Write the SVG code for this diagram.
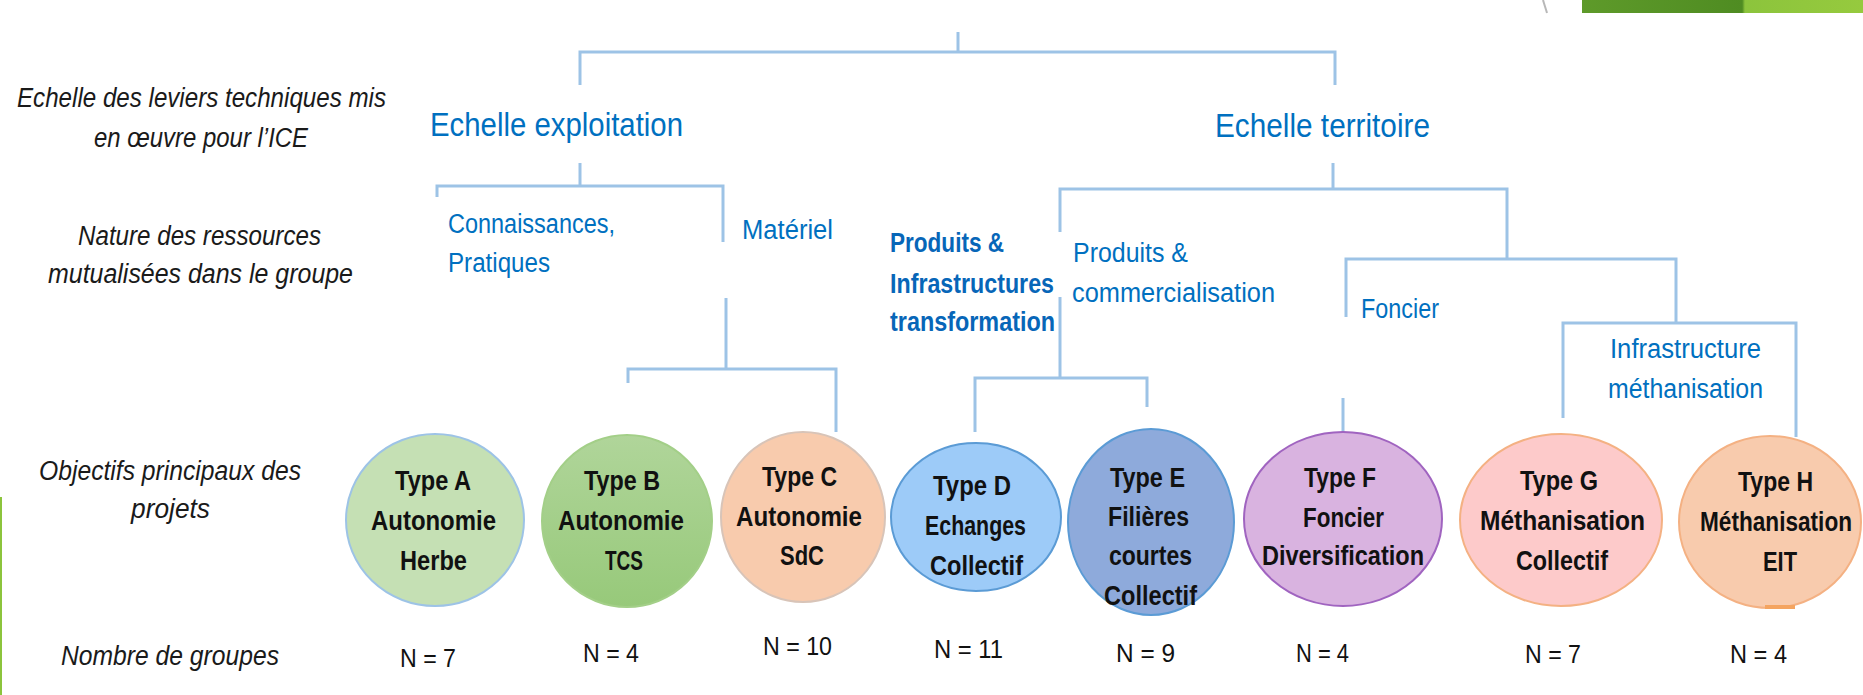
<svg xmlns="http://www.w3.org/2000/svg" width="1863" height="695" viewBox="0 0 1863 695">
<style>
.bg{fill:#ffffff}
.conn path{fill:none;stroke:#9dc3e6;stroke-width:3;stroke-linejoin:miter}
.lbl{font-family:"Liberation Sans",Arial,sans-serif;font-style:italic;font-size:27px;fill:#1a1a1a}
.cat{font-family:"Liberation Sans",Arial,sans-serif;font-size:27px;fill:#0070c0}
.catb{font-family:"Liberation Sans",Arial,sans-serif;font-size:27px;fill:#0766b8;font-weight:bold}
.scale{font-family:"Liberation Sans",Arial,sans-serif;font-size:33px;fill:#0070c0}
.ct{font-family:"Liberation Sans",Arial,sans-serif;font-size:28px;font-weight:bold;fill:#111111}
.n{font-family:"Liberation Sans",Arial,sans-serif;font-size:26px;fill:#111111}
</style>
<defs>
<linearGradient id="gbar" x1="0" y1="0" x2="1" y2="0">
<stop offset="0" stop-color="#5e9a2a"/>
<stop offset="0.57" stop-color="#4f8c22"/>
<stop offset="0.58" stop-color="#8cc43c"/>
<stop offset="1" stop-color="#96ca3e"/>
</linearGradient>
<linearGradient id="gB" x1="0" y1="0" x2="0" y2="1">
<stop offset="0" stop-color="#b0d59a"/>
<stop offset="1" stop-color="#97c97a"/>
</linearGradient>
</defs>
<rect class="bg" x="0" y="0" width="1863" height="695"/>

<g id="decor">
<rect x="1582" y="0" width="281" height="13" fill="url(#gbar)"/>
<path d="M1543,0 L1547,13" stroke="#b8b8b8" stroke-width="2" fill="none"/>
<rect x="0" y="497" width="2" height="198" fill="#8cc43c"/>
</g>

<g id="row-labels">
<text class="lbl" x="17" y="107" textLength="369" lengthAdjust="spacingAndGlyphs">Echelle des leviers techniques mis</text>
<text class="lbl" x="94" y="147" textLength="214" lengthAdjust="spacingAndGlyphs">en œuvre pour l’ICE</text>
<text class="lbl" x="78" y="245" textLength="243" lengthAdjust="spacingAndGlyphs">Nature des ressources</text>
<text class="lbl" x="48" y="283" textLength="305" lengthAdjust="spacingAndGlyphs">mutualisées dans le groupe</text>
<text class="lbl" x="39" y="480" textLength="262" lengthAdjust="spacingAndGlyphs">Objectifs principaux des</text>
<text class="lbl" x="131" y="518" textLength="79" lengthAdjust="spacingAndGlyphs">projets</text>
<text class="lbl" x="61" y="665" textLength="218" lengthAdjust="spacingAndGlyphs">Nombre de groupes</text>
</g>

<g id="connectors" class="conn">
<path d="M580,85 V52 H1335 V85"/>
<path d="M958,52 V32"/>
<path d="M580,163 V186"/>
<path d="M437,197 V186 H723 V242"/>
<path d="M726,298 V369"/>
<path d="M628,383 V369 H836 V432"/>
<path d="M1333,163 V189"/>
<path d="M1060,232 V189 H1507 V259"/>
<path d="M1060,297 V378"/>
<path d="M975,432 V378 H1147 V407"/>
<path d="M1346,317 V259 H1676 V323"/>
<path d="M1343,398 V432"/>
<path d="M1563,418 V323 H1796 V437"/>
</g>

<g id="echelle-exploitation">
<text class="scale" x="430" y="136" textLength="253" lengthAdjust="spacingAndGlyphs">Echelle exploitation</text>
</g>
<g id="echelle-territoire">
<text class="scale" x="1215" y="137" textLength="215" lengthAdjust="spacingAndGlyphs">Echelle territoire</text>
</g>
<g id="connaissances">
<text class="cat" x="448" y="233" textLength="167" lengthAdjust="spacingAndGlyphs">Connaissances,</text>
<text class="cat" x="448" y="272" textLength="102" lengthAdjust="spacingAndGlyphs">Pratiques</text>
</g>
<g id="materiel">
<text class="cat" x="742" y="239" textLength="91" lengthAdjust="spacingAndGlyphs">Matériel</text>
</g>
<g id="produits-infra">
<text class="catb" x="890" y="252" textLength="114" lengthAdjust="spacingAndGlyphs">Produits &amp;</text>
<text class="catb" x="890" y="293" textLength="164" lengthAdjust="spacingAndGlyphs">Infrastructures</text>
<text class="catb" x="890" y="331" textLength="165" lengthAdjust="spacingAndGlyphs">transformation</text>
</g>
<g id="produits-comm">
<text class="cat" x="1073" y="262" textLength="115" lengthAdjust="spacingAndGlyphs">Produits &amp;</text>
<text class="cat" x="1072" y="302" textLength="203" lengthAdjust="spacingAndGlyphs">commercialisation</text>
</g>
<g id="foncier">
<text class="cat" x="1361" y="318" textLength="78" lengthAdjust="spacingAndGlyphs">Foncier</text>
</g>
<g id="infra-metha">
<text class="cat" x="1610" y="358" textLength="151" lengthAdjust="spacingAndGlyphs">Infrastructure</text>
<text class="cat" x="1608" y="398" textLength="155" lengthAdjust="spacingAndGlyphs">méthanisation</text>
</g>

<g id="typeA">
<ellipse cx="435" cy="520" rx="89" ry="86" fill="#c5e0b4" stroke="#9dc3e6" stroke-width="2"/>
<text class="ct" x="395" y="490" textLength="76" lengthAdjust="spacingAndGlyphs">Type A</text>
<text class="ct" x="371" y="530" textLength="125" lengthAdjust="spacingAndGlyphs">Autonomie</text>
<text class="ct" x="400" y="570" textLength="67" lengthAdjust="spacingAndGlyphs">Herbe</text>
<text class="n" x="400" y="667" textLength="56" lengthAdjust="spacingAndGlyphs">N = 7</text>
</g>
<g id="typeB">
<ellipse cx="627" cy="521" rx="85" ry="86" fill="url(#gB)" stroke="#a3cf88" stroke-width="2"/>
<text class="ct" x="584" y="490" textLength="76" lengthAdjust="spacingAndGlyphs">Type B</text>
<text class="ct" x="558" y="530" textLength="126" lengthAdjust="spacingAndGlyphs">Autonomie</text>
<text class="ct" x="605" y="570" textLength="38" lengthAdjust="spacingAndGlyphs">TCS</text>
<text class="n" x="583" y="662" textLength="56" lengthAdjust="spacingAndGlyphs">N = 4</text>
</g>
<g id="typeC">
<ellipse cx="803" cy="517" rx="82" ry="85" fill="#f8cbad" stroke="#d8c4b8" stroke-width="2"/>
<text class="ct" x="762" y="486" textLength="75" lengthAdjust="spacingAndGlyphs">Type C</text>
<text class="ct" x="736" y="526" textLength="126" lengthAdjust="spacingAndGlyphs">Autonomie</text>
<text class="ct" x="780" y="565" textLength="44" lengthAdjust="spacingAndGlyphs">SdC</text>
<text class="n" x="763" y="655" textLength="69" lengthAdjust="spacingAndGlyphs">N = 10</text>
</g>
<g id="typeD">
<ellipse cx="976" cy="517" rx="85" ry="74" fill="#9dcbf8" stroke="#5b9bd5" stroke-width="2"/>
<text class="ct" x="933" y="495" textLength="78" lengthAdjust="spacingAndGlyphs">Type D</text>
<text class="ct" x="925" y="535" textLength="101" lengthAdjust="spacingAndGlyphs">Echanges</text>
<text class="ct" x="930" y="575" textLength="93" lengthAdjust="spacingAndGlyphs">Collectif</text>
<text class="n" x="934" y="658" textLength="69" lengthAdjust="spacingAndGlyphs">N = 11</text>
</g>
<g id="typeE">
<ellipse cx="1151" cy="522" rx="83" ry="93" fill="#8eaadb" stroke="#5b9bd5" stroke-width="2"/>
<text class="ct" x="1110" y="487" textLength="75" lengthAdjust="spacingAndGlyphs">Type E</text>
<text class="ct" x="1108" y="526" textLength="81" lengthAdjust="spacingAndGlyphs">Filières</text>
<text class="ct" x="1109" y="565" textLength="83" lengthAdjust="spacingAndGlyphs">courtes</text>
<text class="ct" x="1104" y="605" textLength="93" lengthAdjust="spacingAndGlyphs">Collectif</text>
<text class="n" x="1116" y="662" textLength="59" lengthAdjust="spacingAndGlyphs">N = 9</text>
</g>
<g id="typeF">
<ellipse cx="1343" cy="519" rx="99" ry="87" fill="#d9b3e0" stroke="#a064c0" stroke-width="2"/>
<text class="ct" x="1304" y="487" textLength="72" lengthAdjust="spacingAndGlyphs">Type F</text>
<text class="ct" x="1303" y="527" textLength="81" lengthAdjust="spacingAndGlyphs" font-weight="normal">Foncier</text>
<text class="ct" x="1262" y="565" textLength="162" lengthAdjust="spacingAndGlyphs">Diversification</text>
<text class="n" x="1296" y="662" textLength="53" lengthAdjust="spacingAndGlyphs">N = 4</text>
</g>
<g id="typeG">
<ellipse cx="1561" cy="520" rx="101" ry="86" fill="#fdcaca" stroke="#f4b183" stroke-width="2"/>
<text class="ct" x="1520" y="490" textLength="78" lengthAdjust="spacingAndGlyphs">Type G</text>
<text class="ct" x="1480" y="530" textLength="165" lengthAdjust="spacingAndGlyphs">Méthanisation</text>
<text class="ct" x="1516" y="570" textLength="92" lengthAdjust="spacingAndGlyphs" font-weight="normal">Collectif</text>
<text class="n" x="1525" y="663" textLength="56" lengthAdjust="spacingAndGlyphs">N = 7</text>
</g>
<g id="typeH">
<ellipse cx="1770" cy="522" rx="91" ry="86" fill="#f8cbad" stroke="#f4b183" stroke-width="2"/>
<rect x="1765" y="605" width="30" height="4" fill="#f4a460"/>
<text class="ct" x="1738" y="491" textLength="75" lengthAdjust="spacingAndGlyphs">Type H</text>
<text class="ct" x="1700" y="531" font-size="23.5" textLength="152" lengthAdjust="spacingAndGlyphs">Méthanisation</text>
<text class="ct" x="1763" y="571" textLength="34" lengthAdjust="spacingAndGlyphs">EIT</text>
<text class="n" x="1730" y="663" textLength="57" lengthAdjust="spacingAndGlyphs">N = 4</text>
</g>
</svg>
